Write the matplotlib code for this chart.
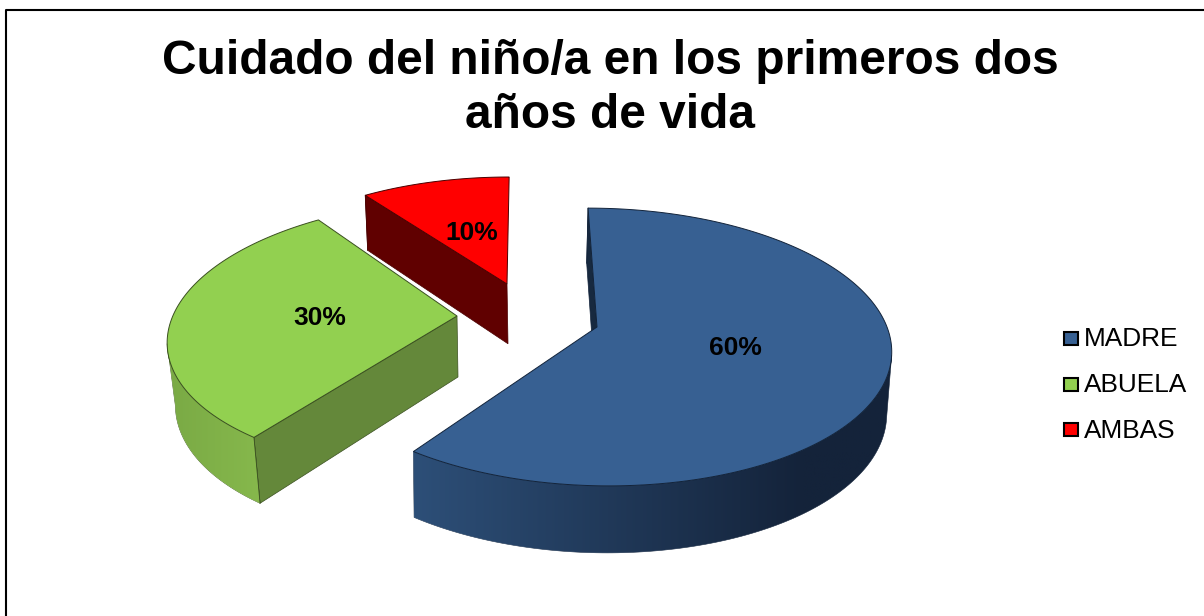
import numpy as np
import matplotlib
matplotlib.use('Agg')
import matplotlib.pyplot as plt
from matplotlib.colors import to_rgb
from matplotlib.patches import Polygon, Rectangle

plt.rcParams['font.family'] = ['Liberation Sans', 'DejaVu Sans']

title = 'Cuidado del niño/a en los primeros dos\naños de vida'
categories = ['MADRE', 'ABUELA', 'AMBAS']
values = [60, 30, 10]
labels = ['60%', '30%', '10%']

# look of each slice, same order as categories
top_colors = ['#376092', '#92d050', '#ff0000']
cut_colors = ['#17293f', '#64883a', '#600000']
edge_colors = ['#12233a', '#3a4f20', '#4a0000']
wall_left = ['#2d4f78', '#7aaa45', '#600000']
wall_right = ['#14233a', '#86b84c', '#600000']
# x range the wall shading runs over
wall_span = [(413, 803), (170, 260), (365, 510)]

# where the exploded slices sit, in pixels of the 1204x616 picture
centers = [(597, 327), (457, 316), (507, 284)]
scales_x = [1.0, 0.98, 0.94]
scales_y = [1.0, 0.975, 0.90]
depth_scales = [1.0, 1.0, 0.98]
shears = [0.075, -0.115, -0.02]
bottom_scales = [0.988, 0.975, 0.99]
bottom_shifts = [-1.5, 1, 1]
label_pos = [(735, 348), (320, 318), (472, 233)]

RX = 290
RY = 136
PERSP = 0.144


def project(theta, i, lower=False):
    # theta in degrees clockwise from the back of the pie
    u = np.sin(np.radians(theta))
    v = np.cos(np.radians(theta))
    w = 1 + PERSP * v
    dx = scales_x[i] * RX * u / w
    dy = -scales_y[i] * RY * v / w
    x = centers[i][0] + dx + shears[i] * dy
    y = centers[i][1] + dy
    if lower:
        x = centers[i][0] + bottom_shifts[i] + bottom_scales[i] * (x - centers[i][0])
        y = y + depth_scales[i] * (61 - 6 * v)
    return x, y


def apex(i, lower=False):
    if lower:
        return centers[i][0] + bottom_shifts[i], centers[i][1] + depth_scales[i] * 61
    return centers[i]


def mix(c1, c2, t):
    a, b = np.array(to_rgb(c1)), np.array(to_rgb(c2))
    return a + (b - a) * np.clip(t, 0, 1)[..., None]


fig = plt.figure(figsize=(12.04, 6.16), dpi=100)
ax = fig.add_axes([0, 0, 1, 1])
ax.set_xlim(0, 1204)
ax.set_ylim(616, 0)
ax.set_autoscale_on(False)
ax.axis('off')

# chart frame, runs off the right and bottom of the picture
ax.plot([5.5, 5.5, 1210], [620, 9.5, 9.5], color='black', lw=1.5, zorder=1)

edges = np.concatenate([[0], np.cumsum(values)]) * 360 / sum(values)

for i in [2, 1, 0]:
    z = 2 + i
    thetas = np.linspace(edges[i], edges[i + 1], 241)
    tx, ty = project(thetas, i)
    bx, by = project(thetas, i, lower=True)

    # the cut face that looks at the viewer
    quad = [apex(i), (tx[0], ty[0]), (bx[0], by[0]), apex(i, lower=True)]
    ax.add_patch(Polygon(quad, facecolor=cut_colors[i], edgecolor=edge_colors[i], lw=0.5, zorder=z))

    # outer wall, only the front part, a horizontal gradient clipped to its outline
    front = np.cos(np.radians(thetas)) < -0.2
    if front.any():
        fx, fy = tx[front], ty[front]
        gx, gy = bx[front], by[front]
        wall = Polygon(list(zip(fx, fy)) + list(zip(gx[::-1], gy[::-1])), facecolor='none',
                       edgecolor=edge_colors[i], lw=0.4, zorder=z)
        ax.add_patch(wall)
        x0, x1 = min(fx.min(), gx.min()), max(fx.max(), gx.max())
        y0, y1 = min(fy.min(), gy.min()), max(fy.max(), gy.max())
        columns = np.linspace(x0, x1, 300)
        span = wall_span[i]
        shade = mix(wall_left[i], wall_right[i], (columns - span[0]) / (span[1] - span[0]))
        ax.imshow(shade[None, :, :], extent=(x0, x1, y1, y0), aspect='auto', clip_path=wall, zorder=z)

    ax.plot([tx[0], bx[0]], [ty[0], by[0]], color=edge_colors[i], lw=0.6, zorder=z)

    # top face
    pts = [apex(i)] + list(zip(tx, ty))
    ax.add_patch(Polygon(pts, facecolor=top_colors[i], edgecolor=edge_colors[i], lw=0.7, zorder=z))

    ax.text(label_pos[i][0], label_pos[i][1], labels[i], fontsize=19, fontweight='bold',
            ha='center', va='center', zorder=10)

ax.text(610, 88.5, title, fontsize=34.5, fontweight='bold', ha='center', va='center',
        linespacing=1.26, zorder=10)

# legend
legend_y = [338, 384, 429]
for name, col, y in zip(categories, top_colors, legend_y):
    ax.add_patch(Rectangle((1064, y - 6.5), 13.5, 13.5, facecolor=col, edgecolor='black', lw=1.5, zorder=10))
    ax.text(1084, y + 1.5, name, fontsize=18.9, ha='left', va='center', zorder=10)

fig.savefig('out.png', dpi=100)
